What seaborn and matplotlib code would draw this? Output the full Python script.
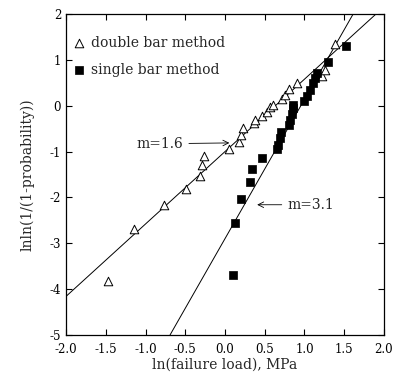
import numpy as np
import pandas as pd
import matplotlib
matplotlib.use("Agg")
import matplotlib.pyplot as plt
import seaborn as sns

# double bar method (open triangles)
double_x = [-1.47, -1.15, -0.77, -0.49, -0.31, -0.29, -0.26, 0.05, 0.18, 0.20, 0.23, 0.36,
            0.38, 0.46, 0.53, 0.57, 0.61, 0.72, 0.76, 0.81, 0.90, 1.22, 1.26, 1.38]
double_y = [-3.83, -2.69, -2.16, -1.82, -1.53, -1.29, -1.10, -0.94, -0.78, -0.64, -0.49, -0.37,
            -0.32, -0.22, -0.13, -0.03, 0.02, 0.14, 0.23, 0.36, 0.50, 0.65, 0.79, 1.34]

# single bar method (filled squares)
single_x = [0.10, 0.12, 0.20, 0.32, 0.34, 0.47, 0.66, 0.67, 0.69, 0.71, 0.80, 0.82,
            0.84, 0.86, 0.86, 0.99, 1.03, 1.07, 1.11, 1.13, 1.16, 1.29, 1.52]
single_y = [-3.69, -2.55, -2.03, -1.66, -1.39, -1.15, -0.95, -0.85, -0.71, -0.57, -0.42, -0.31,
            -0.17, -0.05, 0.02, 0.10, 0.21, 0.34, 0.49, 0.60, 0.72, 0.95, 1.30]

# fit lines as drawn in the picture
fit_slopes = [1.58, 3.04]
fit_intercepts = [-1.0, -2.9]

x_ticks = [-2.0, -1.5, -1.0, -0.5, 0.0, 0.5, 1.0, 1.5, 2.0]
y_ticks = [-5, -4, -3, -2, -1, 0, 1, 2]

double_df = pd.DataFrame({"x": double_x, "y": double_y})
single_df = pd.DataFrame({"x": single_x, "y": single_y})

sns.set_style("ticks")
plt.rcParams["font.family"] = ["DejaVu Serif"]

fig = plt.figure(figsize=(3.93, 3.81), dpi=100)
ax = fig.add_axes([0.168, 0.121, 0.809, 0.842])

for m, b in zip(fit_slopes, fit_intercepts):
    ax.axline((0, b), slope=m, color="black", lw=0.7, zorder=1)

sns.scatterplot(data=double_df, x="x", y="y", marker="^", s=38, facecolor="white",
                edgecolor="black", linewidth=0.7, ax=ax, zorder=3,
                label="double bar method")
sns.scatterplot(data=single_df, x="x", y="y", marker="s", s=26, color="black",
                edgecolor="black", linewidth=0.5, ax=ax, zorder=3,
                label="single bar method")

ax.set_xlim(-2, 2)
ax.set_ylim(-5, 2)
ax.set_xticks(x_ticks)
ax.set_xticklabels([f"{t:.1f}" for t in x_ticks])
ax.set_yticks(y_ticks)
ax.set_yticklabels([str(t) for t in y_ticks])
ax.tick_params(direction="in", top=True, right=True, length=4, width=0.8,
               labelsize=8.5, colors="black")
ax.tick_params(axis="x", pad=6)
for sp in ax.spines.values():
    sp.set_linewidth(0.9)
    sp.set_color("black")

ax.set_xlabel("ln(failure load), MPa", fontsize=10, labelpad=1)
ax.set_ylabel("lnln(1/(1-probability))", fontsize=10, labelpad=11)

ax.annotate("m=1.6", xy=(0.09, -0.81), xytext=(-0.53, -0.83),
            ha="right", va="center", fontsize=10,
            arrowprops=dict(arrowstyle="->", color="black", lw=0.6))
ax.annotate("m=3.1", xy=(0.37, -2.16), xytext=(0.79, -2.16),
            ha="left", va="center", fontsize=10,
            arrowprops=dict(arrowstyle="->", color="black", lw=0.6))

leg = ax.legend(loc="upper left", bbox_to_anchor=(0.0, 0.95), frameon=False,
                fontsize=10, handletextpad=0.4, borderaxespad=0.0,
                labelspacing=0.95, handlelength=1.0)

fig.savefig("out.png", dpi=100)
